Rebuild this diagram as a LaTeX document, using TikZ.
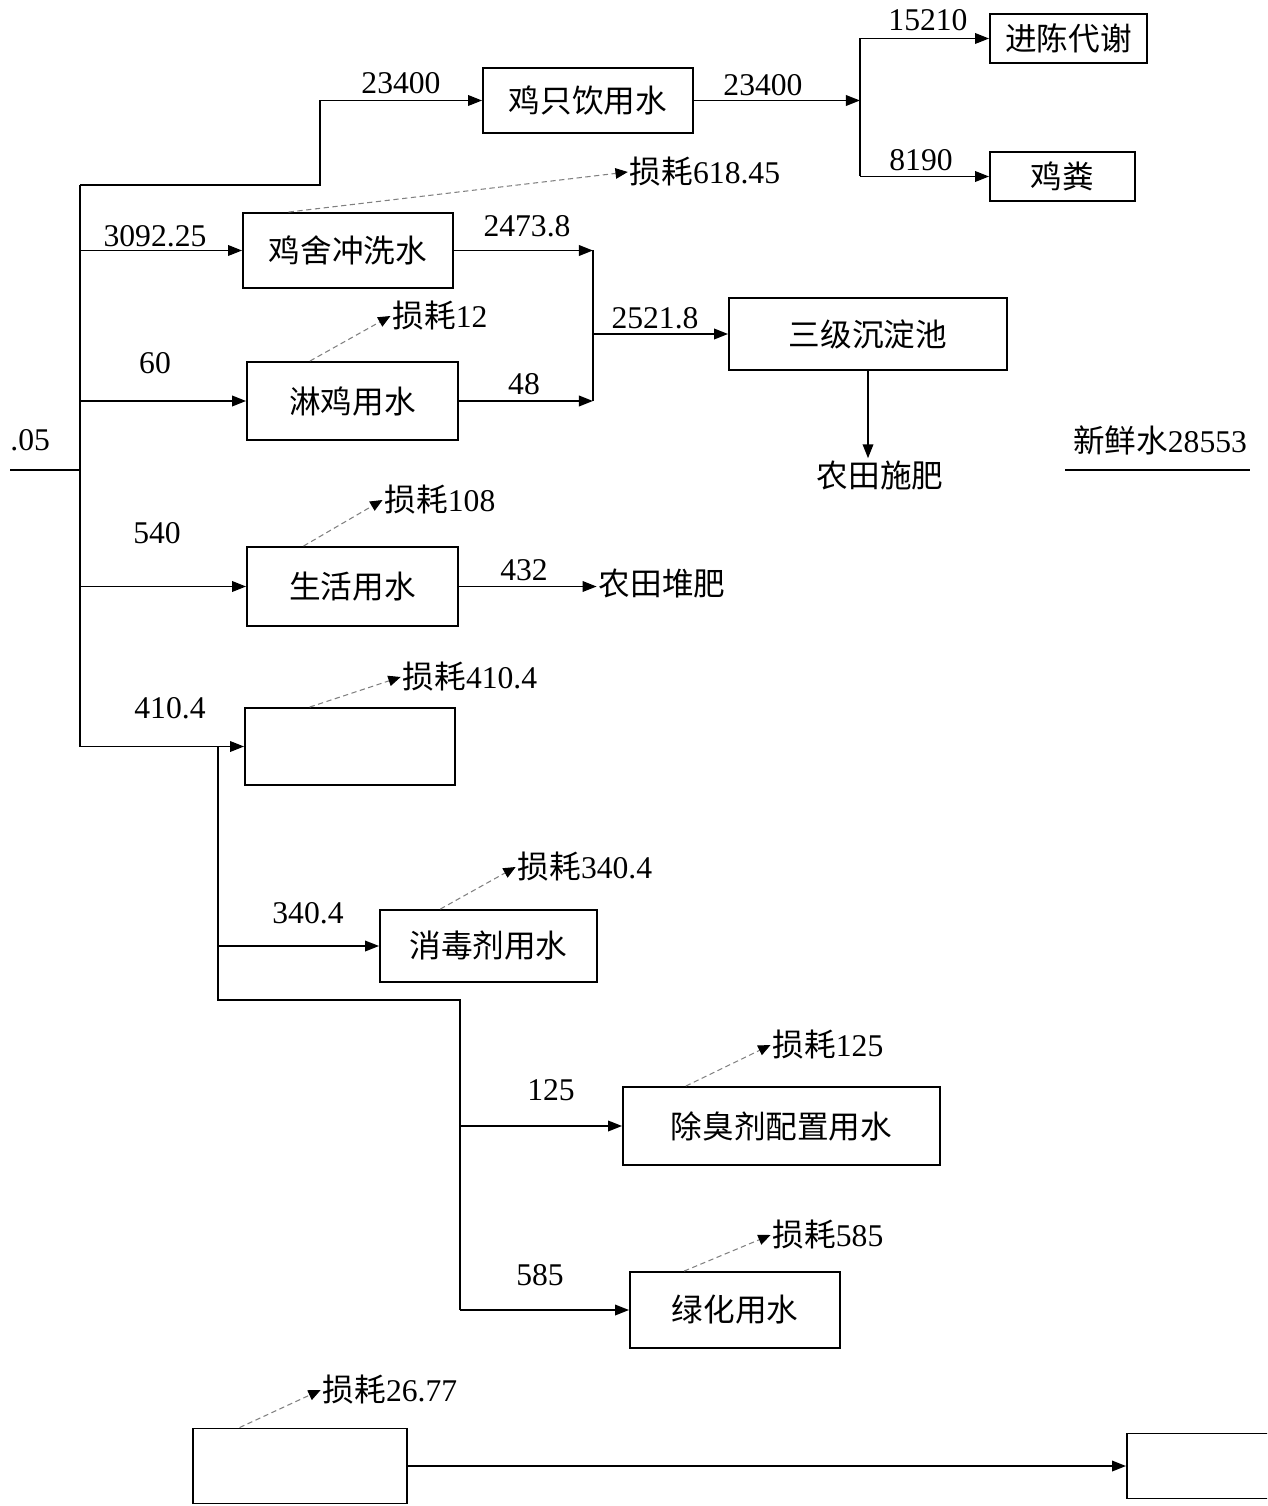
\documentclass[tikz,border=0pt]{standalone}
\usepackage{fontspec}
\setmainfont{Liberation Serif}
\newfontfamily\cjk{Noto Sans CJK SC}
\usetikzlibrary{arrows.meta, positioning, calc}

\begin{document}
\begin{tikzpicture}[
        x=0.02cm, y=-0.02cm,
        arrow/.style={-{Triangle[length=8pt, width=6pt]}, line width=1.1pt},
        lossarrow/.style={-{Triangle[length=7pt, width=6pt, black]}, densely dashed, gray, line width=0.6pt},
        box/.style={draw, line width=1.1pt, rectangle, inner sep=0pt, font=\fontsize{18}{20}\selectfont\cjk},
        num/.style={font=\fontsize{18}{20}\selectfont, inner sep=1pt},
        txt/.style={font=\fontsize{18}{20}\selectfont\cjk, inner sep=1pt}
    ]
        \useasboundingbox (0,0) rectangle (1267,1506);
        \clip (0,0) rectangle (1267,1506);

        % Boxes
        \node[box, minimum width=4.2cm, minimum height=1.3cm] (drink) at (588,100.5) {鸡只饮用水};
        \node[box, minimum width=3.14cm, minimum height=0.98cm] (metab) at (1068.5,38.5) {进陈代谢};
        \node[box, minimum width=2.9cm, minimum height=0.98cm] (manure) at (1062.5,176.5) {鸡粪};
        \node[box, minimum width=4.2cm, minimum height=1.5cm] (wash) at (348,250.5) {鸡舍冲洗水};
        \node[box, minimum width=4.22cm, minimum height=1.56cm] (shower) at (352.5,401) {淋鸡用水};
        \node[box, minimum width=5.56cm, minimum height=1.44cm] (tank) at (868,334) {三级沉淀池};
        \node[box, minimum width=4.22cm, minimum height=1.58cm] (life) at (352.5,586.5) {生活用水};
        \node[box, minimum width=4.2cm, minimum height=1.54cm] (cool) at (350,746.5) {};
        \node[box, minimum width=4.34cm, minimum height=1.44cm] (disinfect) at (488.5,946) {消毒剂用水};
        \node[box, minimum width=6.34cm, minimum height=1.56cm] (deodor) at (781.5,1126) {除臭剂配置用水};
        \node[box, minimum width=4.2cm, minimum height=1.52cm] (green) at (735,1310) {绿化用水};
        \node[box, minimum width=4.28cm, minimum height=1.5cm] (other) at (300,1466) {};
        \node[box, minimum width=3.0cm, minimum height=1.3cm] (rightbox) at (1202,1466) {};

        % Plain texts
        \node[txt] (field) at (880,475) {农田施肥};
        \node[txt] (compost) at (662,583) {农田堆肥};
        \node[num] (freshR) at (1160,440) {{\cjk 新鲜水}28553};
        \node[num, anchor=east] (freshL) at (52,440) {.05};

        % Flow values
        \node[num] (v1) at (401,83) {23400};
        \node[num] (v2) at (763,85) {23400};
        \node[num] (v3) at (928,20) {15210};
        \node[num] (v4) at (921,160) {8190};
        \node[num] (v5) at (155,236) {3092.25};
        \node[num] (v6) at (527,226) {2473.8};
        \node[num] (v7) at (155,363) {60};
        \node[num] (v8) at (524,384) {48};
        \node[num] (v9) at (655,318) {2521.8};
        \node[num] (v10) at (157,533) {540};
        \node[num] (v11) at (524,570) {432};
        \node[num] (v12) at (170,708) {410.4};
        \node[num] (v13) at (308,913) {340.4};
        \node[num] (v14) at (551,1090) {125};
        \node[num] (v15) at (540,1275) {585};

        % Losses
        \node[num] (l1) at (705,172) {{\cjk 损耗}618.45};
        \node[num] (l2) at (440,316) {{\cjk 损耗}12};
        \node[num] (l3) at (440,500) {{\cjk 损耗}108};
        \node[num] (l4) at (470,677) {{\cjk 损耗}410.4};
        \node[num] (l5) at (585,867) {{\cjk 损耗}340.4};
        \node[num] (l6) at (828,1045) {{\cjk 损耗}125};
        \node[num] (l7) at (828,1235) {{\cjk 损耗}585};
        \node[num] (l8) at (390,1390) {{\cjk 损耗}26.77};

        % Junctions
        \coordinate (trunkTop) at (80,185);
        \coordinate (trunkEnd) at (80,746.5);
        \coordinate (up) at (320,185);
        \coordinate (split) at (860,100.5);
        \coordinate (splitTop) at (860,38.5);
        \coordinate (splitBot) at (860,176.5);
        \coordinate (mergeTop) at (593,250.5);
        \coordinate (mergeBot) at (593,401);
        \coordinate (b2Top) at (218,746.5);
        \coordinate (b2Bot) at (218,1000);
        \coordinate (b3Top) at (460,1000);
        \coordinate (b3Bot) at (460,1310);

        % Main lines
        \draw[line width=1.1pt] (trunkTop) -- (trunkEnd);
        \draw[line width=1.1pt] (10,470) -- (80,470);
        \draw[line width=1.1pt] (1065,470) -- (1250,470);
        \draw[arrow] (trunkTop) -- (up) |- (drink.west);
        \draw[arrow] (drink.east) -- (split);
        \draw[line width=1.1pt] (splitTop) -- (splitBot);
        \draw[arrow] (splitTop) -- (metab.west);
        \draw[arrow] (splitBot) -- (manure.west);
        \draw[arrow] (wash.west -| trunkTop) -- (wash.west);
        \draw[arrow] (shower.west -| trunkTop) -- (shower.west);
        \draw[arrow] (life.west -| trunkTop) -- (life.west);
        \draw[arrow] (trunkEnd) -- (cool.west);
        \draw[arrow] (wash.east) -- (mergeTop);
        \draw[arrow] (shower.east) -- (mergeBot);
        \draw[line width=1.1pt] (mergeTop) -- (mergeBot);
        \draw[arrow] (tank.west -| mergeTop) -- (tank.west);
        \draw[arrow] (tank.south) -- (tank.south |- field.north);
        \draw[arrow] (life.east) -- (life.east -| compost.west);
        \draw[line width=1.1pt] (b2Top) -- (b2Bot) -- (b3Top) -- (b3Bot);
        \draw[arrow] (disinfect.west -| b2Top) -- (disinfect.west);
        \draw[arrow] (deodor.west -| b3Top) -- (deodor.west);
        \draw[arrow] (b3Bot) -- (green.west);
        \draw[arrow] (other.east) -- (rightbox.west);

        % Loss arrows
        \draw[lossarrow] ($(wash.north west)!0.22!(wash.north east)$) -- (l1.west);
        \draw[lossarrow] ($(shower.north west)!0.3!(shower.north east)$) -- (l2.west);
        \draw[lossarrow] ($(life.north west)!0.27!(life.north east)$) -- (l3.west);
        \draw[lossarrow] ($(cool.north west)!0.31!(cool.north east)$) -- (l4.west);
        \draw[lossarrow] ($(disinfect.north west)!0.28!(disinfect.north east)$) -- (l5.west);
        \draw[lossarrow] ($(deodor.north west)!0.2!(deodor.north east)$) -- (l6.west);
        \draw[lossarrow] ($(green.north west)!0.26!(green.north east)$) -- (l7.west);
        \draw[lossarrow] ($(other.north west)!0.22!(other.north east)$) -- (l8.west);
    \end{tikzpicture}
\end{document}
